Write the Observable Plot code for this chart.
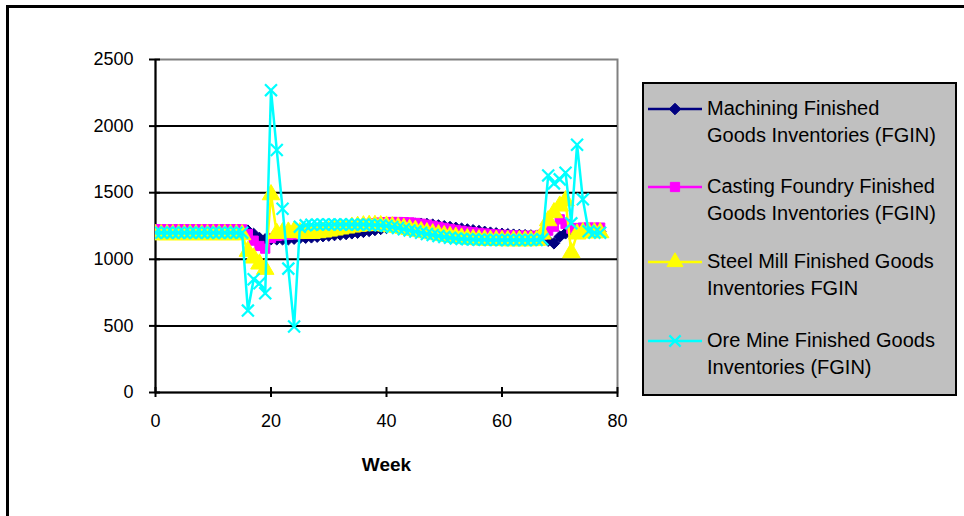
<!DOCTYPE html>
<html><head><meta charset="utf-8">
<script src="https://cdn.jsdelivr.net/npm/d3@7"></script>
<script src="https://cdn.jsdelivr.net/npm/@observablehq/plot@0.6"></script>
<style>
body{margin:0;background:#fff;width:964px;height:516px;overflow:hidden;position:relative;font-family:"Liberation Sans",Arial,sans-serif}
#frame{position:absolute;left:6px;top:5px;width:1100px;height:700px;border-top:3px solid #000;border-left:3px solid #000}
#chart{position:absolute;left:0;top:0}
#legend{position:absolute;left:642px;top:82px;width:311px;height:310px;background:#c0c0c0;border:2px solid #000;box-sizing:content-box}
.item{position:absolute;left:0;width:311px}
.item svg{position:absolute;left:4px}
.item div{position:absolute;left:63px;font-size:20px;line-height:27px;color:#000;white-space:nowrap}
</style></head><body>
<div id="frame"></div><div id="chart"></div><div id="legend"></div>
<script>
const weeks = [0,1,2,3,4,5,6,7,8,9,10,11,12,13,14,15,16,17,18,19,20,21,22,23,24,25,26,27,28,29,30,31,32,33,34,35,36,37,38,39,40,41,42,43,44,45,46,47,48,49,50,51,52,53,54,55,56,57,58,59,60,61,62,63,64,65,66,67,68,69,70,71,72,73,74,75,76,77];

const machining = [1200,1200,1200,1200,1200,1200,1200,1200,1200,1200,1200,1200,1200,1200,1200,1200,
  1215,1190,1160,1150,1150,1150,1150,1150,1155,1160,1162,1165,1170,1174,1178,1182,1186,1190,1195,1200,1206,1213,1220,1228,1236,1244,1252,1258,1263,1266,1267,1265,1260,1254,1248,1242,1236,1230,1224,1218,1212,1206,1200,1195,1191,1188,1185,1183,1181,1179,1177,1165,1140,1120,1170,1195,1215,1215,1215,1212,1210,1208];

const casting = [1225,1225,1225,1225,1225,1225,1225,1225,1225,1225,1225,1225,1225,1225,1225,1225,
  1190,1140,1100,1080,1160,1175,1180,1183,1186,1190,1192,1195,1200,1205,1212,1220,1228,1236,1244,1252,1260,1266,1272,1276,1279,1280,1280,1279,1277,1273,1267,1260,1252,1244,1236,1228,1221,1214,1208,1203,1198,1194,1190,1187,1184,1182,1180,1178,1177,1176,1176,1185,1215,1245,1300,1265,1230,1235,1238,1238,1238,1238];

const steel = [1185,1185,1185,1185,1185,1185,1185,1185,1185,1185,1185,1185,1185,1185,1185,1185,
  1060,1010,965,925,1485,1195,1200,1205,1210,1200,1195,1195,1200,1205,1212,1220,1228,1235,1242,1248,1252,1255,1255,1253,1250,1245,1240,1233,1225,1217,1208,1200,1192,1185,1178,1172,1166,1160,1155,1150,1147,1145,1143,1142,1141,1140,1140,1140,1140,1140,1142,1190,1290,1350,1400,1440,1050,1190,1200,1200,1200,1200];

const ore = [1200,1200,1200,1200,1200,1200,1200,1200,1200,1200,1200,1200,1200,1200,1200,1200,
  615,850,820,745,2270,1820,1380,930,495,1245,1255,1260,1262,1262,1262,1262,1262,1262,1262,1262,1262,1260,1258,1255,1250,1243,1235,1226,1217,1208,1199,1190,1182,1175,1168,1162,1157,1153,1150,1148,1147,1146,1145,1145,1145,1145,1145,1145,1145,1145,1145,1150,1630,1570,1600,1650,1270,1860,1450,1210,1200,1200];

const seriesNames = [
  ["Machining Finished","Goods Inventories (FGIN)"],
  ["Casting Foundry Finished","Goods Inventories (FGIN)"],
  ["Steel Mill Finished Goods","Inventories FGIN"],
  ["Ore Mine Finished Goods","Inventories (FGIN)"]
];
const seriesColors = ["#000080","#FF00FF","#FFFF00","#00FFFF"];
const seriesSymbols = ["diamond2","square","triangle","times"];
const seriesValues = [machining, casting, steel, ore];
const xTicks = [0,20,40,60,80];
const yTicks = [0,500,1000,1500,2000,2500];
const gridValues = [500,1000,1500,2000];

const series = seriesValues.map((vals, i) => vals.map((v, j) => ({week: weeks[j], value: v, s: i})));

const marks = [
  Plot.frame({stroke: "#808080", strokeWidth: 2}),
  Plot.ruleY(gridValues, {stroke: "#000", strokeWidth: 2}),
  Plot.ruleY([0], {stroke: "#000", strokeWidth: 2}),
  Plot.ruleX([0], {stroke: "#000", strokeWidth: 2}),
  Plot.axisX({ticks: xTicks, tickSize: 10, dy: -5, tickPadding: 17, fontSize: 18, tickFormat: d => String(d), stroke: "#000", strokeWidth: 2, color: "#000", label: null}),
  Plot.axisY({ticks: yTicks, tickSize: 11, dx: 5, tickPadding: 16, fontSize: 18, tickFormat: d => String(d), stroke: "#000", strokeWidth: 2, color: "#000", label: null}),
  Plot.text(["Week"], {frameAnchor: "bottom", dy: 78, fontSize: 19, fontWeight: "bold", fill: "#000"})
];
series.forEach((data, i) => {
  const col = seriesColors[i];
  marks.push(Plot.line(data, {x: "week", y: "value", stroke: col, strokeWidth: 2.5, clip: true}));
  if (seriesSymbols[i] === "times") {
    marks.push(Plot.dot(data, {x: "week", y: "value", symbol: "times", r: 5.5, stroke: col, strokeWidth: 2.2, fill: "none", clip: true}));
  } else {
    marks.push(Plot.dot(data, {x: "week", y: "value", symbol: seriesSymbols[i], r: seriesSymbols[i] === "triangle" ? 6.5 : 5.2, fill: col, stroke: col, strokeWidth: 1, clip: true}));
  }
});

const chart = Plot.plot({
  width: 964, height: 516,
  marginLeft: 155, marginRight: 347, marginTop: 59, marginBottom: 124,
  x: {domain: [0, 80]},
  y: {domain: [0, 2500]},
  style: {fontFamily: '"Liberation Sans", Arial, sans-serif', background: "transparent", color: "#000"},
  marks
});
document.getElementById("chart").appendChild(chart);

// legend
const legend = document.getElementById("legend");
const tops = [11, 89, 164, 243];
const symMap = {diamond2: d3.symbolDiamond2, square: d3.symbolSquare, triangle: d3.symbolTriangle, times: d3.symbolTimes};
seriesNames.forEach((lines, i) => {
  const item = document.createElement("div");
  item.className = "item";
  item.style.top = tops[i] + "px";
  const ns = "http://www.w3.org/2000/svg";
  const svg = document.createElementNS(ns, "svg");
  svg.setAttribute("width", 54); svg.setAttribute("height", 20);
  svg.style.top = "4px";
  const ln = document.createElementNS(ns, "line");
  ln.setAttribute("x1", 0); ln.setAttribute("x2", 54); ln.setAttribute("y1", 10); ln.setAttribute("y2", 10);
  ln.setAttribute("stroke", seriesColors[i]); ln.setAttribute("stroke-width", 2.5);
  svg.appendChild(ln);
  const p = document.createElementNS(ns, "path");
  const sz = seriesSymbols[i] === "triangle" ? 110 : 85;
  p.setAttribute("d", d3.symbol(symMap[seriesSymbols[i]], sz)());
  p.setAttribute("transform", "translate(27,10)");
  if (seriesSymbols[i] === "times") { p.setAttribute("fill", "none"); p.setAttribute("stroke", seriesColors[i]); p.setAttribute("stroke-width", 2.2); }
  else { p.setAttribute("fill", seriesColors[i]); p.setAttribute("stroke", seriesColors[i]); }
  svg.appendChild(p);
  item.appendChild(svg);
  const t = document.createElement("div");
  t.innerHTML = lines.join("<br>");
  item.appendChild(t);
  legend.appendChild(item);
});
</script>
</body></html>
